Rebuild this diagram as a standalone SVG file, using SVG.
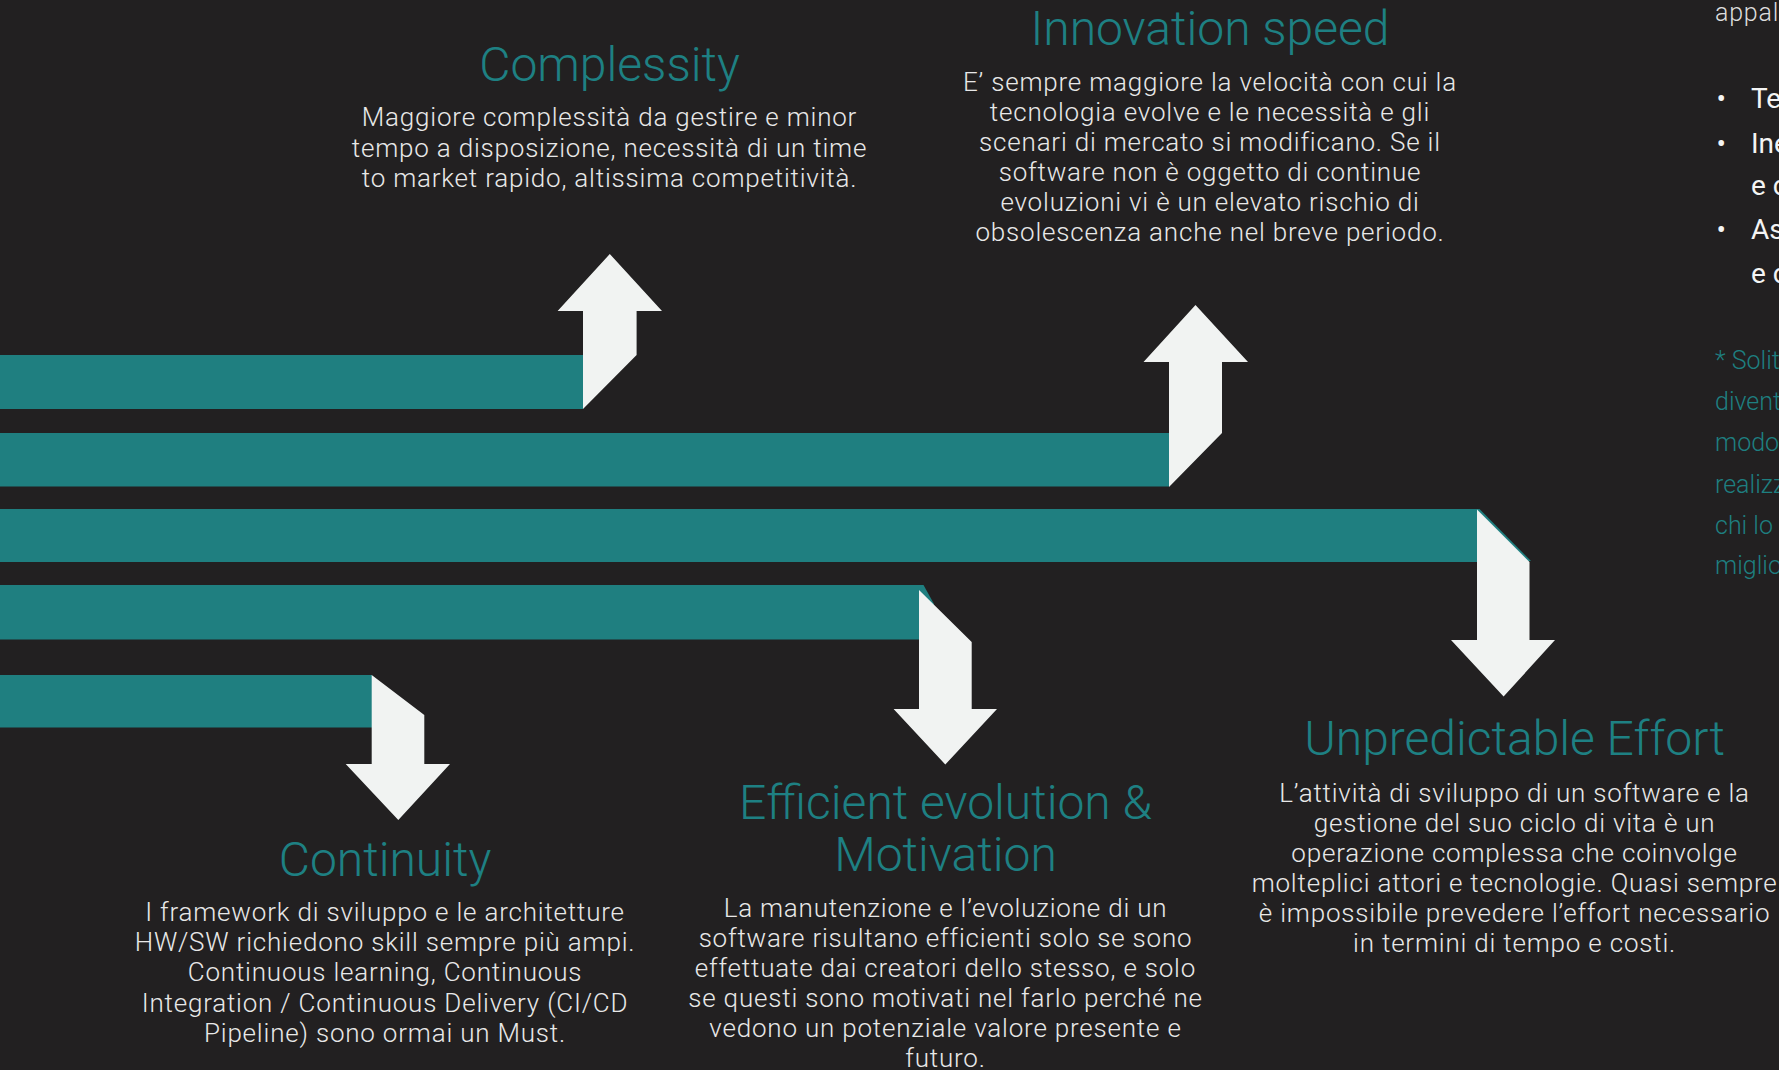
<svg xmlns="http://www.w3.org/2000/svg" width="1779" height="1070" viewBox="0 0 1779 1070">
<style>
.bg{fill:#222021}
.bar{fill:#1F7F80}
.arr{fill:#F1F3F2}
.title{font-family:Roboto,"Liberation Sans",sans-serif;font-weight:300;font-size:48px;fill:#1E8083;text-anchor:middle}
.body{font-family:Roboto,"Liberation Sans",sans-serif;font-weight:300;font-size:26px;letter-spacing:0.8px;fill:#E8E8E8;text-anchor:middle}
.side{font-family:Roboto,"Liberation Sans",sans-serif;font-weight:400;font-size:28px;fill:#F4F4F4}
.sidelight{font-family:Roboto,"Liberation Sans",sans-serif;font-weight:300;font-size:25px;letter-spacing:0.8px;fill:#DDDDDD}
.note{font-family:Roboto,"Liberation Sans",sans-serif;font-weight:300;font-size:25px;fill:#1E7F80}
</style>
<rect class="bg" x="0" y="0" width="1779" height="1070"/>

<g id="connectors">
  <rect class="bar" x="0" y="355" width="583" height="54"/>
  <polygon class="arr" points="583,409 583,311 557.6,311 609.8,254 662,311 636.6,311 636.6,355"/>

  <rect class="bar" x="0" y="433" width="1169" height="53.5"/>
  <polygon class="arr" points="1169,487 1169,362 1143.5,362 1195.5,305 1248,362 1222,362 1222,433"/>

  <polygon class="bar" points="0,509 1479.5,509 1531,561 1477,562 0,562"/>
  <polygon class="arr" points="1477,509.5 1529.5,562 1529.5,640 1555,640 1503.6,696.5 1451,640 1477,640"/>

  <polygon class="bar" points="0,585 923.5,585 934,604 919,639.5 0,639.5"/>
  <polygon class="arr" points="919,590 971.7,642 971.7,709 997,709 945.3,764.5 893.6,709 919,709"/>

  <rect class="bar" x="0" y="675" width="372" height="52.5"/>
  <polygon class="arr" points="371.7,675 424.3,715 424.3,764 450,764 398.3,820 345.7,764 371.7,764"/>
</g>

<g id="node-complessity">
  <text class="title" x="609.5" y="81">Complessity</text>
  <text class="body" x="609.5" y="126">Maggiore complessità da gestire e minor</text>
  <text class="body" x="609.5" y="156.5">tempo a disposizione, necessità di un time</text>
  <text class="body" x="609.5" y="186.5">to market rapido, altissima competitività.</text>
</g>

<g id="node-innovation">
  <text class="title" x="1210" y="45">Innovation speed</text>
  <text class="body" x="1210" y="90.7">E’ sempre maggiore la velocità con cui la</text>
  <text class="body" x="1210" y="120.7">tecnologia evolve e le necessità e gli</text>
  <text class="body" x="1210" y="150.7">scenari di mercato si modificano. Se il</text>
  <text class="body" x="1210" y="180.6">software non è oggetto di continue</text>
  <text class="body" x="1210" y="210.6">evoluzioni vi è un elevato rischio di</text>
  <text class="body" x="1210" y="240.5">obsolescenza anche nel breve periodo.</text>
</g>

<g id="node-continuity">
  <text class="title" x="385" y="876">Continuity</text>
  <text class="body" x="385" y="920.5">I framework di sviluppo e le architetture</text>
  <text class="body" x="385" y="950.8">HW/SW richiedono skill sempre più ampi.</text>
  <text class="body" x="385" y="981.2">Continuous learning, Continuous</text>
  <text class="body" x="385" y="1011.5">Integration / Continuous Delivery (CI/CD</text>
  <text class="body" x="385" y="1041.8">Pipeline) sono ormai un Must.</text>
</g>

<g id="node-efficient">
  <text class="title" x="945.5" y="819.3">Efficient evolution &amp;</text>
  <text class="title" x="945.5" y="870.7">Motivation</text>
  <text class="body" x="945.5" y="916.7">La manutenzione e l’evoluzione di un</text>
  <text class="body" x="945.5" y="946.7">software risultano efficienti solo se sono</text>
  <text class="body" x="945.5" y="976.7">effettuate dai creatori dello stesso, e solo</text>
  <text class="body" x="945.5" y="1006.8">se questi sono motivati nel farlo perché ne</text>
  <text class="body" x="945.5" y="1036.9">vedono un potenziale valore presente e</text>
  <text class="body" x="945.5" y="1067">futuro.</text>
</g>

<g id="node-unpredictable">
  <text class="title" x="1514.6" y="755">Unpredictable Effort</text>
  <text class="body" x="1514.6" y="801.7">L’attività di sviluppo di un software e la</text>
  <text class="body" x="1514.6" y="831.7">gestione del suo ciclo di vita è un</text>
  <text class="body" x="1514.6" y="861.7">operazione complessa che coinvolge</text>
  <text class="body" x="1514.6" y="891.7">molteplici attori e tecnologie. Quasi sempre</text>
  <text class="body" x="1514.6" y="921.7">è impossibile prevedere l’effort necessario</text>
  <text class="body" x="1514.6" y="951.5">in termini di tempo e costi.</text>
</g>

<g id="side-panel">
  <text class="sidelight" x="1715" y="20.7">appal</text>
  <text class="side" x="1716.5" y="108.3">•</text>
  <text class="side" x="1751" y="108.3">Te</text>
  <text class="side" x="1716.5" y="152.7">•</text>
  <text class="side" x="1751" y="152.7">Ine</text>
  <text class="side" x="1751" y="195">e c</text>
  <text class="side" x="1716.5" y="239.3">•</text>
  <text class="side" x="1751" y="239.3">As</text>
  <text class="side" x="1751" y="283.3">e c</text>
  <text class="note" x="1715" y="369.3">* Solit</text>
  <text class="note" x="1715" y="410">divent</text>
  <text class="note" x="1715" y="451">modo</text>
  <text class="note" x="1715" y="492.5">realizz</text>
  <text class="note" x="1715" y="533.5">chi lo</text>
  <text class="note" x="1715" y="574.3">miglio</text>
</g>
</svg>
